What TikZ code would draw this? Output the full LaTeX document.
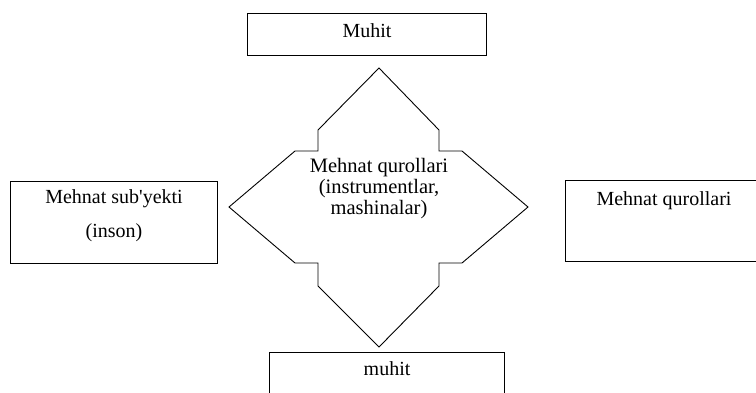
\documentclass[tikz,border=0pt]{standalone}
\usepackage{fontspec}
\setmainfont{Liberation Serif}
\usetikzlibrary{positioning}
\begin{document}
\begin{tikzpicture}[x=1pt,y=-1pt,
box/.style={
rectangle,
draw,
line width=1.1pt,
inner sep=0pt,
anchor=north west
},
txt/.style={
inner sep=0pt,
align=center,
font=\fontsize{20}{22}\selectfont
},
outline/.style={line width=0.9pt,line join=miter}]

\useasboundingbox (0,0) rectangle (756,392);
\node (env) [box,minimum width=239pt,minimum height=42pt] at (247,13) {};
\node (subject) [box,minimum width=207pt,minimum height=82pt] at (10,181) {};
\node (tools) [box,minimum width=197pt,minimum height=81pt] at (565,180) {};
\node (medium) [box,minimum width=235pt,minimum height=50pt] at (269,352) {};
\draw[outline] (379,68) -- (318,130) -- (318,151) -- (295,151) -- (229,207)
  -- (295,263) -- (318,263) -- (318,286) -- (379,347) -- (439,286)
  -- (439,263) -- (462,263) -- (528,207) -- (462,151) -- (439,151)
  -- (439,130) -- cycle;

\node (envtext) [txt,below=10pt of env.north] {Muhit};
\node (subjtext) [txt,below=8pt of subject.north] {Mehnat sub\textquotesingle yekti\\[12pt](inson)};
\node (tooltext) [txt,below=11pt of tools.north] {Mehnat qurollari};
\node (medtext) [txt,below=9pt of medium.north] {muhit};
\node (core) [txt,font=\fontsize{20.5}{21}\selectfont] at (379,189) {Mehnat qurollari\\(instrumentlar,\\mashinalar)};
\end{tikzpicture}
\end{document}
